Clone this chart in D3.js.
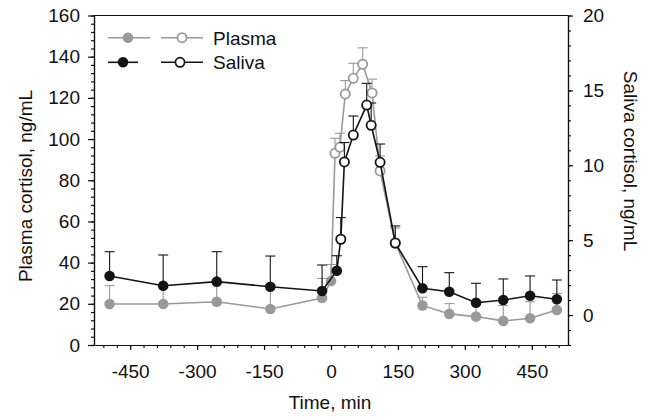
<!DOCTYPE html>
<html>
<head>
<meta charset="utf-8">
<script src="https://cdn.jsdelivr.net/npm/d3@7"></script>
<style>
  html, body { margin: 0; padding: 0; background: #fff; }
  svg { display: block; font-family: "Liberation Sans", Arial, Helvetica, sans-serif; }
</style>
</head>
<body>
<svg id="chart" width="654" height="417"></svg>
<script>
// ---- Data ----
const plasmaTime = [-496, -376, -256, -136, -20, 0, 9, 20, 32, 50, 71, 92, 110, 144, 205, 265, 325, 386, 446, 506];
const plasmaValue = [19.9, 19.9, 21.0, 17.5, 22.8, 31.1, 93.1, 96.0, 121.9, 129.5, 136.3, 122.4, 84.5, 49.4, 19.2, 15.1, 13.8, 11.7, 13.0, 17.0];
const plasmaErr = [8.9, 9.0, 9.0, 11.7, 9.5, 8.0, 7.3, 6.8, 6.5, 7.3, 8.0, 6.7, 7.3, 7.4, 4.0, 5.0, 6.0, 7.5, 8.0, 8.0];
const plasmaOpen = [false, false, false, false, false, false, true, true, true, true, true, true, true, true, false, false, false, false, false, false];

const salivaTime = [-496, -376, -256, -136, -20, 13, 22, 30, 50, 80, 90, 110, 144, 205, 265, 325, 386, 446, 506];
const salivaValue = [2.61, 1.96, 2.23, 1.89, 1.61, 2.96, 5.06, 10.22, 12.02, 14.02, 12.67, 10.20, 4.81, 1.79, 1.56, 0.82, 1.00, 1.29, 1.05];
const salivaErr = [1.62, 2.05, 2.00, 2.05, 1.73, 1.0, 1.45, 1.3, 1.27, 1.45, 1.49, 1.22, 1.14, 1.44, 1.27, 1.30, 1.41, 1.32, 1.29];
const salivaOpen = [false, false, false, false, false, false, true, true, true, true, true, true, true, false, false, false, false, false, false];

const xTicks = [-450, -300, -150, 0, 150, 300, 450];
const leftTicks = [0, 20, 40, 60, 80, 100, 120, 140, 160];
const rightTicks = [0, 5, 10, 15, 20];
const legendLabels = ["Plasma", "Saliva"];

// ---- Layout ----
const svg = d3.select("#chart");
const L = 94, R = 568, T = 15.5, B = 345;
const GRAY = "#999999", BLACK = "#141414";
const FONT = 19;

const x = d3.scaleLinear().domain([-531, 531]).range([L, R]);
const yL = d3.scaleLinear().domain([0, 160]).range([B, T]);
const yR = d3.scaleLinear().domain([-2, 20]).range([B, T]);

function styleAxis(g) {
  g.selectAll("path, line").attr("stroke", "#111").attr("stroke-width", 1.2);
  g.selectAll("text").attr("font-size", FONT).attr("fill", "#111").attr("font-family", "Liberation Sans, Arial, sans-serif");
}
const plain = d => String(d);

// minor ticks
svg.append("g").attr("transform", `translate(0,${B})`)
  .call(d3.axisBottom(x).tickValues(d3.range(-510, 511, 30)).tickSize(3).tickFormat("").tickSizeOuter(0))
  .call(styleAxis);
svg.append("g").attr("transform", `translate(${L},0)`)
  .call(d3.axisLeft(yL).tickValues(d3.range(0, 161, 4)).tickSize(3).tickFormat("").tickSizeOuter(0))
  .call(styleAxis);
svg.append("g").attr("transform", `translate(${R},0)`)
  .call(d3.axisRight(yR).tickValues(d3.range(-2, 21, 1)).tickSize(3).tickFormat("").tickSizeOuter(0))
  .call(styleAxis);

// major ticks
svg.append("g").attr("transform", `translate(0,${B})`)
  .call(d3.axisBottom(x).tickValues(xTicks).tickSize(5).tickPadding(15).tickSizeOuter(0).tickFormat(plain))
  .call(styleAxis);
svg.append("g").attr("transform", `translate(${L},0)`)
  .call(d3.axisLeft(yL).tickValues(leftTicks).tickSize(6).tickPadding(8).tickSizeOuter(0).tickFormat(plain))
  .call(styleAxis);
svg.append("g").attr("transform", `translate(${R},0)`)
  .call(d3.axisRight(yR).tickValues(rightTicks).tickSize(5).tickPadding(10).tickSizeOuter(0).tickFormat(plain))
  .call(styleAxis);

// top frame line
svg.append("line").attr("x1", L).attr("x2", R).attr("y1", T).attr("y2", T)
  .attr("stroke", "#111").attr("stroke-width", 1.2);

// axis titles
svg.append("text").attr("x", 330).attr("y", 409).attr("text-anchor", "middle")
  .attr("font-size", FONT).attr("fill", "#111").text("Time, min");
svg.append("text").attr("transform", `translate(32,186) rotate(-90)`)
  .attr("text-anchor", "middle").attr("font-size", FONT).attr("fill", "#111")
  .text("Plasma cortisol, ng/mL");
svg.append("text").attr("transform", `translate(624,161) rotate(90)`)
  .attr("text-anchor", "middle").attr("font-size", FONT).attr("fill", "#111")
  .text("Saliva cortisol, ng/mL");

// ---- Series ----
function drawSeries(times, vals, errs, open, y, color) {
  const pts = times.map((t, i) => ({ t, v: vals[i], e: errs[i], o: open[i] }));
  const g = svg.append("g");
  g.append("path").datum(pts)
    .attr("d", d3.line().x(d => x(d.t)).y(d => y(d.v)))
    .attr("fill", "none").attr("stroke", color).attr("stroke-width", 1.6);
  const eb = g.selectAll(".eb").data(pts).enter().append("g");
  eb.append("line").attr("x1", d => x(d.t)).attr("x2", d => x(d.t))
    .attr("y1", d => y(d.v)).attr("y2", d => y(d.v + d.e))
    .attr("stroke", color).attr("stroke-width", 1.1);
  eb.append("line").attr("x1", d => x(d.t) - 5).attr("x2", d => x(d.t) + 5)
    .attr("y1", d => y(d.v + d.e)).attr("y2", d => y(d.v + d.e))
    .attr("stroke", color).attr("stroke-width", 1.1);
  g.selectAll(".pt").data(pts).enter().append("circle")
    .attr("cx", d => x(d.t)).attr("cy", d => y(d.v))
    .attr("r", d => d.o ? 4.6 : 5.3)
    .attr("fill", d => d.o ? "#fff" : color)
    .attr("stroke", color).attr("stroke-width", d => d.o ? 1.8 : 0);
}
drawSeries(plasmaTime, plasmaValue, plasmaErr, plasmaOpen, yL, GRAY);
drawSeries(salivaTime, salivaValue, salivaErr, salivaOpen, yR, BLACK);

// ---- Legend ----
const legendRows = [
  { label: legendLabels[0], color: GRAY, y: 37.7, l1: [108, 150], c1: 128, c2: 182 },
  { label: legendLabels[1], color: BLACK, y: 62.3, l1: [108, 138], c1: 123, c2: 180 }
];
legendRows.forEach(r => {
  const g = svg.append("g");
  g.append("line").attr("x1", r.l1[0]).attr("x2", r.l1[1]).attr("y1", r.y).attr("y2", r.y)
    .attr("stroke", r.color).attr("stroke-width", 1.6);
  g.append("circle").attr("cx", r.c1).attr("cy", r.y).attr("r", 5.3).attr("fill", r.color);
  g.append("line").attr("x1", 161).attr("x2", 203).attr("y1", r.y).attr("y2", r.y)
    .attr("stroke", r.color).attr("stroke-width", 1.6);
  g.append("circle").attr("cx", r.c2).attr("cy", r.y).attr("r", 4.6).attr("fill", "#fff")
    .attr("stroke", r.color).attr("stroke-width", 1.8);
  g.append("text").attr("x", 213).attr("y", r.y + 7).attr("font-size", FONT).attr("fill", "#111")
    .text(r.label);
});
</script>
</body>
</html>
